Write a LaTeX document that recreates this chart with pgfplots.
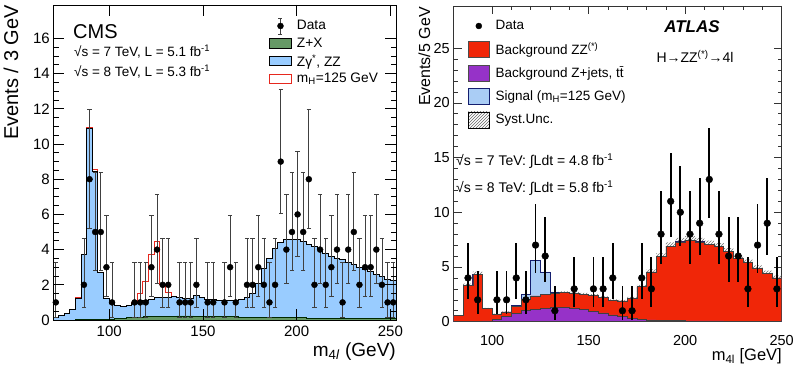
\documentclass[border=0pt]{standalone}
\usepackage{pgfplots}
\pgfplotsset{compat=1.18}
\usepackage{pgfplotstable}
\usepgfplotslibrary{fillbetween}
\usetikzlibrary{patterns}
\usepackage{fontspec}
\setmainfont{Liberation Sans}
\definecolor{cmsblue}{RGB}{153,204,255}
\definecolor{cmsgreen}{RGB}{102,153,102}
\definecolor{cmsred}{RGB}{230,40,30}
\definecolor{atlred}{RGB}{240,38,8}
\definecolor{atlpurple}{RGB}{150,50,200}
\definecolor{atlblue}{RGB}{170,205,245}
\definecolor{atlnavy}{RGB}{20,30,110}

\pgfplotstableread{
x tot sig zx
70 0.13 0.13 0.0
73 0.25 0.25 0.0
76 0.38 0.38 0.0
79 0.6 0.6 0.0
82 1.25 1.3 0.01
85 3.7 3.75 0.01
88 10.9 10.95 0.02
91 8.45 8.55 0.02
94 2.7 2.72 0.03
97 1.25 1.25 0.04
100 0.95 0.95 0.06
103 0.85 0.85 0.08
106 0.75 0.75 0.1
109 0.85 0.85 0.12
112 0.95 1.0 0.14
115 1.0 1.5 0.16
118 1.1 2.2 0.18
121 1.15 3.7 0.19
124 1.3 4.45 0.2
127 1.3 2.0 0.21
130 1.3 1.55 0.22
133 1.35 1.35 0.22
136 1.27 1.27 0.23
139 1.25 1.25 0.23
142 1.23 1.23 0.23
145 1.38 1.38 0.22
148 1.27 1.27 0.22
151 1.17 1.17 0.21
154 1.15 1.15 0.21
157 1.12 1.12 0.2
160 1.12 1.12 0.2
163 1.12 1.12 0.19
166 1.12 1.12 0.18
169 1.15 1.15 0.17
172 1.3 1.3 0.16
175 1.5 1.5 0.15
178 2.05 2.05 0.14
181 2.9 2.9 0.14
184 3.5 3.5 0.13
187 4.05 4.05 0.13
190 4.4 4.4 0.12
193 4.55 4.55 0.12
196 4.6 4.6 0.12
199 4.6 4.6 0.12
202 4.45 4.45 0.12
205 4.3 4.3 0.11
208 4.15 4.15 0.11
211 4.0 4.0 0.11
214 3.8 3.8 0.11
217 3.6 3.6 0.11
220 3.5 3.5 0.1
223 3.45 3.45 0.1
226 3.25 3.25 0.1
229 3.15 3.15 0.1
232 3.0 3.0 0.1
235 2.85 2.85 0.1
238 2.75 2.75 0.1
241 2.6 2.6 0.1
244 2.45 2.45 0.1
247 2.3 2.3 0.1
250 2.25 2.25 0.1
253 2.25 2.25 0.1
}\cmsmc

\pgfplotstableread{
x y em ep
71.5 1 0.83 2.30
86.5 2 1.29 2.64
89.5 8 2.77 3.95
92.5 5 2.16 3.38
95.5 5 2.16 3.38
98.5 3 1.63 2.92
101.5 1 0.83 2.30
113.5 1 0.83 2.30
116.5 1 0.83 2.30
119.5 1 0.83 2.30
122.5 3 1.63 2.92
125.5 4 1.91 3.16
128.5 2 1.29 2.64
131.5 2 1.29 2.64
137.5 1 0.83 2.30
140.5 1 0.83 2.30
143.5 1 0.83 2.30
146.5 2 1.29 2.64
152.5 1 0.83 2.30
155.5 1 0.83 2.30
161.5 1 0.83 2.30
164.5 3 1.63 2.92
167.5 1 0.83 2.30
173.5 2 1.29 2.64
176.5 2 1.29 2.64
179.5 3 1.63 2.92
182.5 2 1.29 2.64
185.5 1 0.83 2.30
188.5 2 1.29 2.64
191.5 9 2.94 4.11
194.5 4 1.91 3.16
197.5 5 2.16 3.38
200.5 6 2.38 3.58
203.5 5 2.16 3.38
206.5 8 2.77 3.95
209.5 2 1.29 2.64
212.5 4 1.91 3.16
215.5 2 1.29 2.64
218.5 3 1.63 2.92
221.5 4 1.91 3.16
224.5 1 0.83 2.30
227.5 4 1.91 3.16
230.5 5 2.16 3.38
233.5 2 1.29 2.64
236.5 3 1.63 2.92
239.5 3 1.63 2.92
242.5 4 1.91 3.16
245.5 2 1.29 2.64
248.5 1 0.83 2.30
251.5 1 0.83 2.30
}\cmsdata

\pgfplotstableread{
x zj zz sg lo hi
80 0.05 0.55 0.55 0.53 0.58
85 0.05 3.3 3.3 3.2 3.47
90 0.05 4.35 4.35 4.22 4.57
95 0.08 1.2 1.2 1.16 1.26
100 0.2 0.7 0.7 0.68 0.74
105 0.45 0.9 0.9 0.87 0.95
110 0.75 1.4 1.5 1.36 1.47
115 1.0 2.05 2.5 1.99 2.15
120 1.15 2.35 5.6 2.28 2.47
125 1.25 2.5 4.55 2.43 2.63
130 1.3 2.6 2.7 2.52 2.73
135 1.3 2.65 2.65 2.57 2.78
140 1.2 2.6 2.6 2.52 2.73
145 1.1 2.5 2.5 2.43 2.63
150 0.95 2.4 2.4 2.33 2.52
155 0.8 2.2 2.2 2.13 2.31
160 0.62 1.95 1.95 1.89 2.05
165 0.46 1.9 1.9 1.84 2.0
170 0.33 2.15 2.15 2.09 2.26
175 0.22 3.2 3.2 3.1 3.36
180 0.16 4.55 4.55 4.41 4.78
185 0.12 5.95 5.95 5.77 6.25
190 0.1 6.9 6.9 6.69 7.25
195 0.09 7.3 7.3 7.08 7.67
200 0.08 7.45 7.45 7.23 7.82
205 0.08 7.3 7.3 7.08 7.67
210 0.07 7.05 7.05 6.84 7.4
215 0.07 6.85 6.85 6.64 7.19
220 0.06 6.4 6.4 6.21 6.72
225 0.06 5.8 5.8 5.63 6.09
230 0.05 5.4 5.4 5.24 5.67
235 0.05 4.9 4.9 4.75 5.15
240 0.05 4.45 4.45 4.32 4.67
245 0.05 4.0 4.0 3.88 4.2
250 0.05 4.0 4.0 3.88 4.2
}\atlmc

\pgfplotstableread{
x y em ep
87.5 4 1.91 3.16
92.5 2 1.29 2.64
102.5 2 1.29 2.64
107.5 2 1.29 2.64
112.5 4 1.91 3.16
117.5 2 1.29 2.64
122.5 7 2.58 3.77
127.5 6 2.38 3.58
132.5 1 0.83 2.30
142.5 3 1.63 2.92
152.5 3 1.63 2.92
157.5 3 1.63 2.92
162.5 4 1.91 3.16
167.5 1 0.83 2.30
172.5 1 0.83 2.30
177.5 4 1.91 3.16
182.5 3 1.63 2.92
187.5 8 2.77 3.95
192.5 11 3.27 4.42
197.5 10 3.11 4.27
202.5 8 2.77 3.95
207.5 9 2.94 4.11
212.5 13 3.56 4.70
217.5 8 2.77 3.95
222.5 6 2.38 3.58
227.5 6 2.38 3.58
232.5 3 1.63 2.92
237.5 7 2.58 3.77
242.5 9 2.94 4.11
247.5 3 1.63 2.92
}\atldata

\begin{document}
\begin{tikzpicture}
% ---------------- CMS ----------------
\begin{axis}[
  at={(53pt,47pt)}, anchor=south west, scale only axis,
  width=343pt, height=315pt,
  xmin=70, xmax=253, ymin=0, ymax=17.9,
  xtick={100,150,200,250}, ytick={0,2,...,16},
  minor y tick num=3,
  major tick length=11pt, minor tick length=5.5pt,
  tick style={black, line width=0.7pt},
  axis line style={line width=0.9pt},
  axis on top,
  /pgf/number format/assume math mode=true,
  ticklabel style={font=\fontsize{15}{15}\selectfont},
  xticklabel style={inner sep=0pt, yshift=-6pt},
  yticklabel style={inner sep=0pt, xshift=-3pt},
  legend cell align=left,
  legend style={at={(0.6297,0.9613)}, anchor=north west, draw=none, fill=none,
    inner sep=0pt, outer sep=0pt, row sep=0pt, column sep=5pt,
    font=\fontsize{13.7}{14}\selectfont,
    nodes={inner sep=0pt, outer sep=0pt}},
]
\addplot[const plot mark left, draw=cmsred, line width=1pt, forget plot] table[x=x, y=sig] {\cmsmc};
\addplot[const plot mark left, fill=cmsblue, draw=black, line width=1pt, forget plot] table[x=x, y=tot] {\cmsmc} \closedcycle;
\addplot[const plot mark left, fill=cmsgreen, draw=black!60!green!40!black, line width=0.8pt, forget plot] table[x=x, y=zx] {\cmsmc} \closedcycle;
\addplot[only marks, mark=*, mark size=3pt, black, forget plot,
  error bars/.cd, y dir=both, y explicit,
  error bar style={gray!50!black, line width=0.7pt},
  error mark options={rotate=90, mark size=2.2pt, gray!50!black, line width=0.7pt}]
  table[x=x, y=y, y error plus=ep, y error minus=em] {\cmsdata};
\addlegendimage{legend image code/.code={
  \path[draw=none, fill=none] (0pt,-8.8pt) rectangle (22pt,8.8pt);
  \draw[gray!50!black, line width=0.7pt] (11pt,-8pt) -- (11pt,8pt) (9pt,-8pt) -- (13pt,-8pt) (9pt,8pt) -- (13pt,8pt);
  \fill[black] (11pt,0pt) circle (3pt);}}
\addlegendentry{Data}
\addlegendimage{legend image code/.code={
  \path[draw=none, fill=none] (0pt,-8.8pt) rectangle (22pt,8.8pt);
  \draw[fill=cmsgreen, draw=black, line width=1pt] (0pt,-4.7pt) rectangle (22pt,4.7pt);}}
\addlegendentry{Z+X}
\addlegendimage{legend image code/.code={
  \path[draw=none, fill=none] (0pt,-8.8pt) rectangle (22pt,8.8pt);
  \draw[fill=cmsblue, draw=black, line width=1pt] (0pt,-4.7pt) rectangle (22pt,4.7pt);}}
\addlegendentry{Zγ\textsuperscript{*}, ZZ}
\addlegendimage{legend image code/.code={
  \path[draw=none, fill=none] (0pt,-8.8pt) rectangle (22pt,8.8pt);
  \draw[fill=white, draw=cmsred, line width=1pt] (0pt,-4.7pt) rectangle (22pt,4.7pt);}}
\addlegendentry{m\textsubscript{H}=125 GeV}
\end{axis}
% ---------------- ATLAS ----------------
\begin{axis}[
  at={(453.5pt,45.3pt)}, anchor=south west, scale only axis,
  width=328.2pt, height=315.7pt,
  xmin=80, xmax=250, ymin=0, ymax=28.85,
  xtick={100,150,200,250}, ytick={0,5,...,25},
  minor x tick num=4, minor y tick num=4,
  major tick length=8pt, minor tick length=4pt,
  tick style={black!80, line width=0.6pt},
  axis line style={black!80, line width=0.8pt},
  /pgf/number format/assume math mode=true,
  ticklabel style={font=\fontsize{14.5}{14.5}\selectfont},
  xticklabel style={inner sep=0pt, yshift=-13pt},
  yticklabel style={inner sep=0pt, xshift=-3.5pt},
  legend cell align=left,
  legend style={at={(0.0442,0.9739)}, anchor=north west, draw=none, fill=none,
    inner sep=0pt, outer sep=0pt, row sep=0pt, column sep=6pt,
    font=\fontsize{13.5}{14}\selectfont,
    nodes={inner sep=0pt, outer sep=0pt}},
]
\addplot[const plot mark left, fill=atlblue, draw=atlnavy, line width=0.7pt, forget plot] table[x=x, y=sg] {\atlmc} \closedcycle;
\addplot[const plot mark left, fill=atlred, draw=black!75, line width=0.6pt, forget plot] table[x=x, y=zz] {\atlmc} \closedcycle;
\addplot[const plot mark left, fill=atlpurple, draw=black!75, line width=0.6pt, forget plot] table[x=x, y=zj] {\atlmc} \closedcycle;
\addplot[const plot mark left, draw=none, name path=hi, forget plot] table[x=x, y=hi] {\atlmc};
\addplot[const plot mark left, draw=none, name path=lo, forget plot] table[x=x, y=lo] {\atlmc};
\addplot[pattern=north east lines, pattern color=black!55, forget plot] fill between[of=hi and lo];
\addplot[only marks, mark=*, mark size=3.4pt, black, forget plot,
  error bars/.cd, y dir=both, y explicit, error mark=none,
  error bar style={black, line width=1.8pt}]
  table[x=x, y=y, y error plus=ep, y error minus=em] {\atldata};
\addlegendimage{legend image code/.code={
  \path[draw=none, fill=none] (0pt,-11.75pt) rectangle (21pt,11.75pt);
  \fill[black] (10.5pt,0pt) circle (3pt);}}
\addlegendentry{Data}
\addlegendimage{legend image code/.code={
  \path[draw=none, fill=none] (0pt,-11.75pt) rectangle (21pt,11.75pt);
  \draw[fill=atlred, draw=black!70, line width=0.6pt] (0pt,-8pt) rectangle (21pt,8pt);}}
\addlegendentry{Background ZZ\textsuperscript{(*)}}
\addlegendimage{legend image code/.code={
  \path[draw=none, fill=none] (0pt,-11.75pt) rectangle (21pt,11.75pt);
  \draw[fill=atlpurple, draw=black!70, line width=0.6pt] (0pt,-8pt) rectangle (21pt,8pt);}}
\addlegendentry{Background Z+jets, t\={t}}
\addlegendimage{legend image code/.code={
  \path[draw=none, fill=none] (0pt,-11.75pt) rectangle (21pt,11.75pt);
  \draw[fill=atlblue, draw=atlnavy, line width=0.6pt] (0pt,-8pt) rectangle (21pt,8pt);}}
\addlegendentry{Signal (m\textsubscript{H}=125 GeV)}
\addlegendimage{legend image code/.code={
  \path[draw=none, fill=none] (0pt,-11.75pt) rectangle (21pt,11.75pt);
  \fill[pattern=north east lines, pattern color=black!60] (0pt,-8pt) rectangle (21pt,8pt);}}
\addlegendentry{Syst.Unc.}
\end{axis}
% ---------------- texts ----------------
\node[rotate=90, anchor=base east, inner sep=0pt, font=\fontsize{20}{20}\selectfont] at (18pt,362pt) {Events / 3 GeV};
\node[anchor=base east, inner sep=0pt, font=\fontsize{19}{19}\selectfont] at (396pt,11pt) {m\textsubscript{4\textit{l}} (GeV)};
\node[anchor=base west, inner sep=0pt, font=\fontsize{20}{20}\selectfont] at (73pt,328pt) {CMS};
\node[anchor=base west, inner sep=0pt, font=\fontsize{13.5}{13.5}\selectfont] at (74pt,310pt) {√s = 7 TeV, L = 5.1 fb\textsuperscript{-1}};
\node[anchor=base west, inner sep=0pt, font=\fontsize{13.5}{13.5}\selectfont] at (74pt,290pt) {√s = 8 TeV, L = 5.3 fb\textsuperscript{-1}};
\node[rotate=90, anchor=base east, inner sep=0pt, font=\fontsize{16}{16}\selectfont] at (430pt,360pt) {Events/5 GeV};
\node[anchor=base east, inner sep=0pt, font=\fontsize{16.5}{16.5}\selectfont] at (782pt,6.5pt) {m\textsubscript{4l} [GeV]};
\node[anchor=base, inner sep=0pt, font=\fontsize{17}{17}\selectfont\bfseries\itshape] at (692pt,334pt) {ATLAS};
\node[anchor=base, inner sep=0pt, font=\fontsize{14}{14}\selectfont] at (695pt,304pt) {H→ZZ\textsuperscript{(*)}→4l};
\node[anchor=base west, inner sep=0pt, font=\fontsize{14}{14}\selectfont] at (456pt,201pt) {√s = 7 TeV: ∫Ldt = 4.8 fb\textsuperscript{-1}};
\node[anchor=base west, inner sep=0pt, font=\fontsize{14}{14}\selectfont] at (456pt,174pt) {√s = 8 TeV: ∫Ldt = 5.8 fb\textsuperscript{-1}};
\pgfresetboundingbox
\path[use as bounding box] (0pt,0pt) rectangle (800pt,367pt);
\end{tikzpicture}
\end{document}
